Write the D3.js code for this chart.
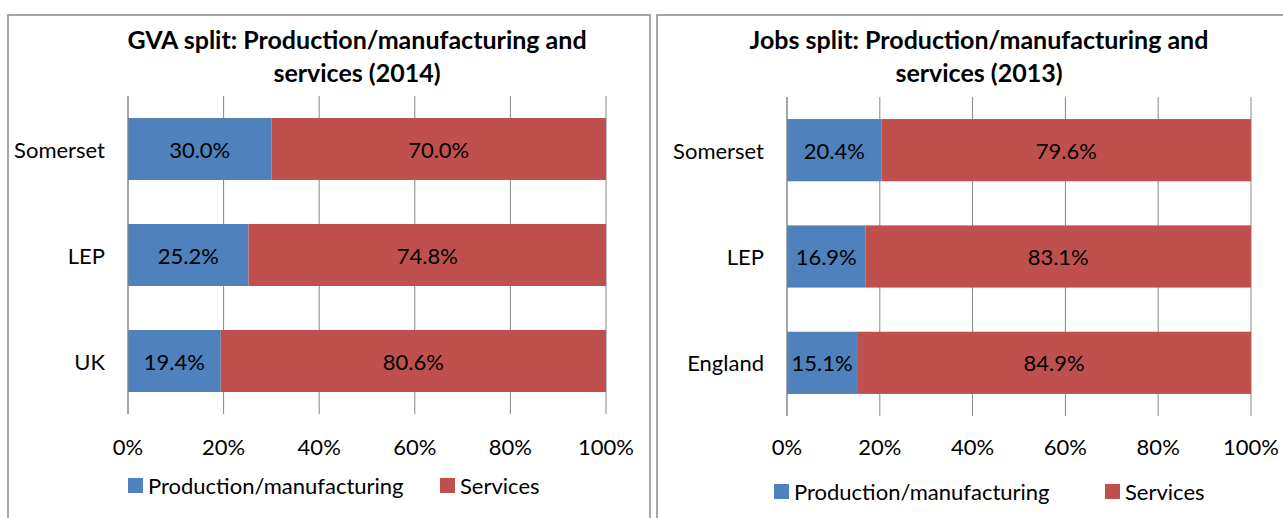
<!DOCTYPE html>
<html><head><meta charset="utf-8">
<script src="https://cdn.jsdelivr.net/npm/d3@7"></script>
<style>
body{margin:0;background:#fff;}
svg text{font-family:Lato,"Open Sans",sans-serif;fill:#000;}
</style></head>
<body><svg id="c" width="1283" height="518"></svg>
<script>
// ---- data ----
const seriesNames = ["Production/manufacturing", "Services"];
const gvaTitle = ["GVA split: Production/manufacturing and", "services (2014)"];
const gvaCategories = ["Somerset", "LEP", "UK"];
const gvaProduction = [30.0, 25.2, 19.4];
const gvaServices = [70.0, 74.8, 80.6];
const jobsTitle = ["Jobs split: Production/manufacturing and", "services (2013)"];
const jobsCategories = ["Somerset", "LEP", "England"];
const jobsProduction = [20.4, 16.9, 15.1];
const jobsServices = [79.6, 83.1, 84.9];
const tickValues = [0, 20, 40, 60, 80, 100];
const colors = ["#4F81BD", "#C0504D"];

const svg = d3.select("#c");

function drawPanel(p) {
  const g = svg.append("g");
  g.append("rect").attr("x", p.box[0]).attr("y", p.box[1]).attr("width", p.box[2]).attr("height", p.box[3])
    .attr("fill", "#fff").attr("stroke", "#8a8a8a").attr("stroke-width", 1.5);
  const x = d3.scaleLinear().domain([0, 100]).range(p.xr);
  const y = d3.scaleBand().domain(p.categories).range(p.yr).paddingInner(0.415).paddingOuter(0.2075);
  // title
  p.title.forEach((t, i) => {
    g.append("text").attr("x", p.titleX).attr("y", p.titleY + i * 33).attr("text-anchor", "middle")
      .attr("dominant-baseline", "central")
      .style("font-weight", "bold").style("font-size", "25px").text(t);
  });
  // gridlines
  g.selectAll(".grid").data(tickValues).enter().append("line")
    .attr("x1", d => x(d)).attr("x2", d => x(d)).attr("y1", p.yr[0]).attr("y2", p.yr[1])
    .attr("stroke", "#868686").attr("stroke-width", 1);
  // bars
  const stacked = p.categories.map((c, i) => ({c, a: p.prod[i], b: p.serv[i]}));
  stacked.forEach(d => {
    const segs = [{v0: 0, v1: d.a, col: colors[0]}, {v0: d.a, v1: d.a + d.b, col: colors[1]}];
    segs.forEach(s => {
      g.append("rect").attr("x", x(s.v0)).attr("y", y(d.c)).attr("width", x(s.v1) - x(s.v0)).attr("height", y.bandwidth())
        .attr("fill", s.col);
      g.append("text").attr("x", (x(s.v0) + x(s.v1)) / 2).attr("y", y(d.c) + y.bandwidth() / 2)
        .attr("text-anchor", "middle").attr("dominant-baseline", "central").style("font-size", "22px")
        .text((s.v1 - s.v0).toFixed(1) + "%");
    });
  });
  // axis line
  g.append("line").attr("x1", x(0)).attr("x2", x(0)).attr("y1", p.yr[0]).attr("y2", p.yr[1]).attr("stroke", "#868686");
  // category labels
  p.categories.forEach(c => {
    g.append("text").attr("x", x(0) - 23).attr("y", y(c) + y.bandwidth() / 2).attr("text-anchor", "end")
      .attr("dominant-baseline", "central").style("font-size", "22px").text(c);
  });
  // tick labels
  tickValues.forEach(t => {
    g.append("text").attr("x", x(t)).attr("y", p.tickY).attr("text-anchor", "middle")
      .attr("dominant-baseline", "central").style("font-size", "22px").text(t + "%");
  });
  // legend
  seriesNames.forEach((n, i) => {
    g.append("rect").attr("x", p.legX[i]).attr("y", p.legY - 7).attr("width", 15).attr("height", 15).attr("fill", colors[i]);
    g.append("text").attr("x", p.legX[i] + 20).attr("y", p.legY).attr("dominant-baseline", "central")
      .style("font-size", "22px").text(n);
  });
}

drawPanel({box: [8, 15, 642, 520], xr: [128, 606], yr: [96, 414], categories: gvaCategories,
  prod: gvaProduction, serv: gvaServices, title: gvaTitle, titleX: 357, titleY: 39, tickY: 446,
  legX: [128, 440], legY: 485});
drawPanel({box: [657, 15, 640, 520], xr: [787, 1251], yr: [97, 416], categories: jobsCategories,
  prod: jobsProduction, serv: jobsServices, title: jobsTitle, titleX: 979, titleY: 39, tickY: 446,
  legX: [774, 1105], legY: 491});
</script></body></html>
